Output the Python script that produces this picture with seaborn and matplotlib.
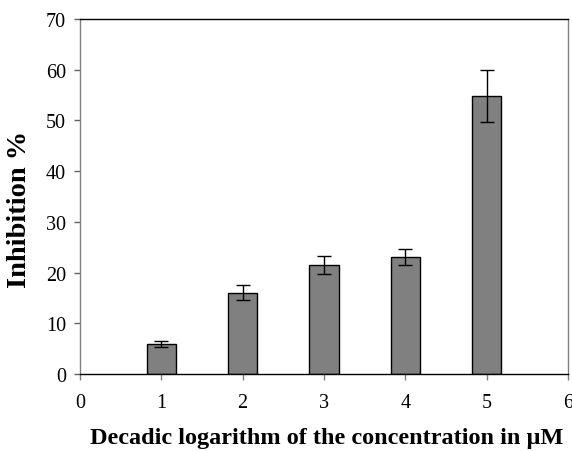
import matplotlib
matplotlib.use("Agg")
import matplotlib.pyplot as plt
import seaborn as sns
import pandas as pd

log_conc = [1, 2, 3, 4, 5]
inhibition = [5.9, 16.0, 21.5, 23.0, 54.8]
error = [0.55, 1.5, 1.75, 1.55, 5.1]
x_ticks = [0, 1, 2, 3, 4, 5, 6]
y_ticks = [0, 10, 20, 30, 40, 50, 60, 70]

sns.set_theme(style="white")
plt.rcParams['font.family'] = ['Liberation Serif', 'DejaVu Serif']
plt.rcParams['text.color'] = 'black'
plt.rcParams['axes.labelcolor'] = 'black'

df = pd.DataFrame({"x": log_conc, "y": inhibition})

fig = plt.figure(figsize=(5.72, 4.52), dpi=100)
ax = fig.add_axes([80/572, 77/452, 488/572, 355/452])

sns.barplot(data=df, x="x", y="y", native_scale=True, width=0.36,
            color="#808080", saturation=1, edgecolor="black", linewidth=1.0,
            errorbar=None, ax=ax)
ax.errorbar(log_conc, inhibition, yerr=error, fmt="none", ecolor="black",
            elinewidth=1.0, capsize=5, capthick=1.0)

ax.set_xlim(0, 6)
ax.set_ylim(0, 70)
ax.set_xticks(x_ticks)
ax.set_xticklabels([str(t) for t in x_ticks])
ax.set_yticks(y_ticks)
ax.set_yticklabels([str(t) for t in y_ticks])
ax.tick_params(axis="both", direction="out", length=4, width=1, labelsize=14.5,
               labelcolor="black", bottom=True, left=True)
ax.tick_params(axis="x", pad=10, color="#808080")
ax.tick_params(axis="y", pad=6, color="#606060")

for side in ["top", "bottom"]:
    ax.spines[side].set_color("black")
    ax.spines[side].set_linewidth(1.0)
for side in ["left", "right"]:
    ax.spines[side].set_color("#808080")
    ax.spines[side].set_linewidth(1.0)

ax.set_xlabel("Decadic logarithm of the concentration in μM", fontsize=17.5,
              fontweight="bold", color="black")
ax.set_ylabel("Inhibition %", fontsize=20.5, fontweight="bold", color="black")
ax.xaxis.set_label_coords(0.505, -0.148)
ax.yaxis.set_label_coords(-0.098, 0.465)
ax.grid(False)

fig.savefig("out.png", dpi=100, facecolor="white")
